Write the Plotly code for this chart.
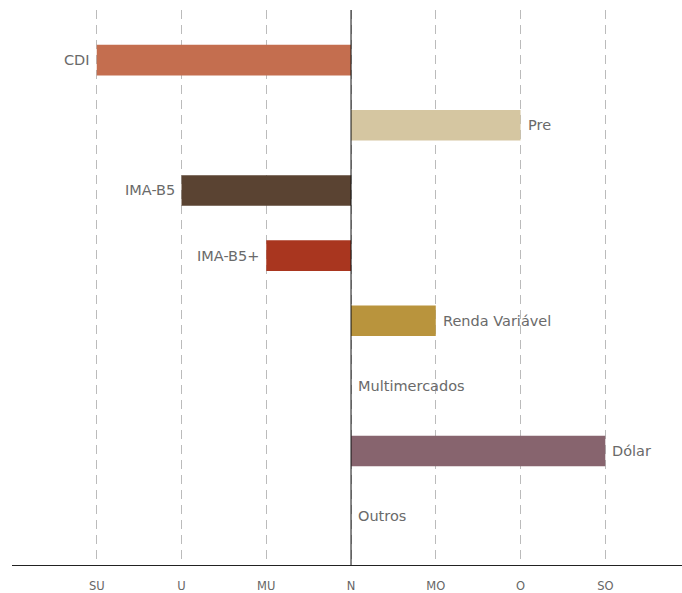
import plotly.graph_objects as go

categories = ["CDI", "Pre", "IMA-B5", "IMA-B5+", "Renda Variável", "Multimercados", "Dólar", "Outros"]
values = [-3, 2, -2, -1, 1, 0, 3, 0]
colors = ["#C46E4F", "#D5C6A1", "#5A4332", "#A9361F", "#B9943D", "#FFFFFF", "#87646E", "#FFFFFF"]
tick_vals = [-3, -2, -1, 0, 1, 2, 3]
tick_text = ["SU", "U", "MU", "N", "MO", "O", "SO"]

FONT = "DejaVu Sans"
fig = go.Figure()
fig.add_trace(go.Bar(
    y=categories, x=values, orientation="h",
    marker=dict(color=colors, line=dict(width=0)),
    width=0.47, hoverinfo="skip",
))

for c, v in zip(categories, values):
    fig.add_annotation(
        x=v, y=c, text=c, showarrow=False,
        xanchor="right" if v < 0 else "left",
        xshift=-5 if v < 0 else 5,
        font=dict(family=FONT, size=14.5, color="#6A6A6A"),
    )

# zero line
fig.add_shape(type="line", x0=0, x1=0, y0=0, y1=1, xref="x", yref="paper",
              line=dict(color="#111111", width=1), layer="above")

fig.update_layout(
    width=682, height=593,
    margin=dict(l=12, r=0, t=10, b=28),
    plot_bgcolor="white", paper_bgcolor="white",
    showlegend=False,
    xaxis=dict(
        range=[-4, 3.905], tickvals=tick_vals, ticktext=tick_text,
        showgrid=True, gridcolor="#BBBBBB", griddash="9px,6px", gridwidth=1,
        zeroline=False, showline=True, linecolor="#222222", linewidth=1.2,
        ticks="", ticklabelstandoff=10, automargin=False,
        tickfont=dict(family=FONT, size=11.5, color="#666666"),
        minor=dict(tickvals=[-4], showgrid=True, gridcolor="#BBBBBB", griddash="9px,6px"),
    ),
    yaxis=dict(
        categoryorder="array", categoryarray=categories, autorange=False,
        range=[7.75, -0.77], showticklabels=False, showgrid=False, zeroline=False,
    ),
)

fig.write_html("out.html")
